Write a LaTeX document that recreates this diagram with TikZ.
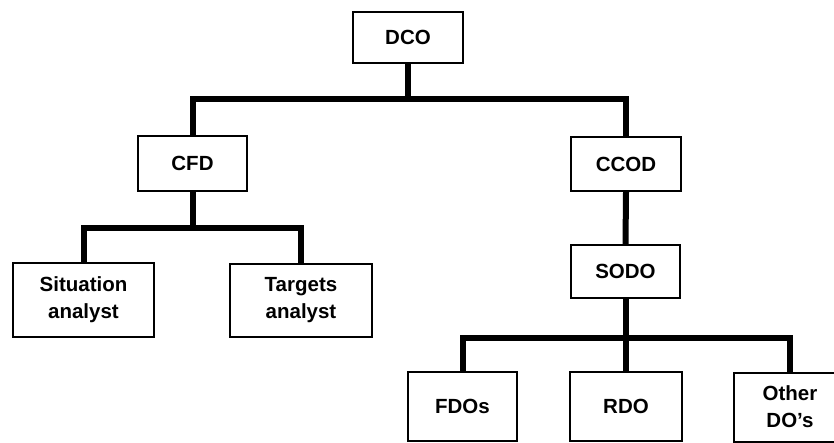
\documentclass[tikz,border=0pt]{standalone}
\usepackage{fontspec}
\setsansfont{Liberation Sans}
\usepackage{tikz}

\begin{document}
\begin{tikzpicture}[x=1pt,y=-1pt,
  box/.style={draw,line width=2pt,fill=white,inner sep=0pt,align=center,
    font=\sffamily\bfseries\fontsize{20.5}{27}\selectfont},
  link/.style={line width=6pt}]
	% frame of the page
	\clip (0,0) rectangle (834,442);
	% top level
	\node[box,minimum width=110pt,minimum height=51pt] (dco) at (408,37.5) {DCO};
	% second level
	\node[box,minimum width=109pt,minimum height=55pt] (cfd) at (192.5,163.5) {CFD};
	\node[box,minimum width=110pt,minimum height=54pt] (ccod) at (626,164) {CCOD};
	% analysts
	\node[box,minimum width=141pt,minimum height=74pt] (sit) at (83.5,300) {Situation\\analyst};
	\node[box,minimum width=142pt,minimum height=73pt] (tgt) at (301,300.5) {Targets\\analyst};
	% SODO and below
	\node[box,minimum width=109pt,minimum height=53pt] (sodo) at (625.5,271.5) {SODO};
	\node[box,minimum width=109pt,minimum height=69pt] (fdo) at (462.5,406.5) {FDOs};
	\node[box,minimum width=112pt,minimum height=69pt] (rdo) at (626,406.5) {RDO};
	\node[box,minimum width=112pt,minimum height=69pt] (odo) at (790,407) {Other\\DO's};

	% links
	\draw[link] (dco.south) -- ++(0,35) -| (cfd.north);
	\draw[link] (dco.south) -- ++(0,35) -| (ccod.north);
	\draw[link] (cfd.south) -- ++(0,36) -| (sit.north);
	\draw[link] (cfd.south) -- ++(0,36) -| (tgt.north);
	\draw[link] (ccod.south) -- (sodo.north);
	\draw[link] (sodo.south) -- ++(0,39) -| (fdo.north);
	\draw[link] (sodo.south) -- ++(0,39) -| (rdo.north);
	\draw[link] (sodo.south) -- ++(0,39) -| (odo.north);
\end{tikzpicture}
\end{document}
